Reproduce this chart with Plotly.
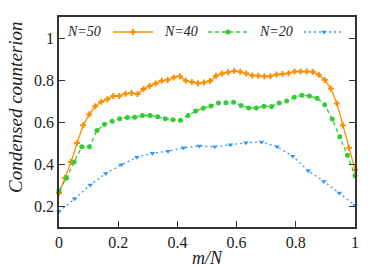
import numpy as np
import plotly.graph_objects as go

# Data (x = m/N, evenly spaced over [0, 1])
n50_vals = [0.262, 0.335, 0.41, 0.50, 0.584, 0.636, 0.675, 0.697, 0.708, 0.724,
            0.724, 0.735, 0.738, 0.733, 0.757, 0.772, 0.783, 0.796, 0.800, 0.812,
            0.818, 0.796, 0.791, 0.785, 0.788, 0.795, 0.82, 0.831, 0.837, 0.843,
            0.839, 0.831, 0.822, 0.82, 0.817, 0.818, 0.826, 0.828, 0.832, 0.841,
            0.84, 0.84, 0.839, 0.825, 0.80, 0.759, 0.688, 0.584, 0.477, 0.373]
n40_vals = [0.273, 0.333, 0.41, 0.482, 0.482, 0.56, 0.589, 0.604, 0.616, 0.622,
            0.623, 0.631, 0.631, 0.625, 0.616, 0.611, 0.608, 0.631, 0.652, 0.666,
            0.676, 0.69, 0.692, 0.694, 0.679, 0.667, 0.667, 0.675, 0.674, 0.691,
            0.70, 0.718, 0.727, 0.724, 0.713, 0.682, 0.614, 0.53, 0.442, 0.344]
n20_vals = [0.174, 0.234, 0.30, 0.355, 0.396, 0.432, 0.451, 0.461, 0.477, 0.486,
            0.482, 0.492, 0.501, 0.505, 0.482, 0.437, 0.368, 0.317, 0.262, 0.204]

series_labels = ["N=50", "N=40", "N=20"]
x_ticks = [0, 0.2, 0.4, 0.6, 0.8, 1]
x_tick_labels = ["0", "0.2", "0.4", "0.6", "0.8", "1"]
y_ticks = [0.2, 0.4, 0.6, 0.8, 1]
y_tick_labels = ["0.2", "0.4", "0.6", "0.8", "1"]

FONT = "Liberation Serif, Times New Roman, serif"
colors = ["#ff8c00", "#33cc33", "#3399ff"]
dashes = ["solid", "4px,3px", "2px,3px"]
symbols = ["cross", "circle", "triangle-down"]
legend_ids = ["legend", "legend2", "legend3"]

W, H = 382, 268
PL, PR, PT, PB = 59, 355, 17, 227   # plot box in pixels


def px_to_paper_x(px):
    return (px - PL) / (PR - PL)


def px_to_paper_y(py):
    return (PB - py) / (PB - PT)


fig = go.Figure()
for vals, col, dash, sym, lid in zip([n50_vals, n40_vals, n20_vals], colors, dashes, symbols, legend_ids):
    x = np.linspace(0, 1, len(vals))
    fig.add_trace(go.Scatter(
        x=x, y=vals, mode="lines+markers",
        line=dict(color=col, width=1.3, dash=dash),
        marker=dict(symbol=sym, size=5, color=col, line=dict(width=0)),
        name=" ", showlegend=True, cliponaxis=False, legend=lid,
    ))

# legend texts placed before the samples (gnuplot style)
legend_text_x = [84, 181, 276]
for lab, px in zip(series_labels, legend_text_x):
    fig.add_annotation(text=lab, xref="paper", yref="paper",
                       x=px_to_paper_x(px), y=px_to_paper_y(32),
                       showarrow=False, xanchor="center", yanchor="middle",
                       font=dict(family=FONT, size=14, color="#222", style="italic"))

# y axis title (placed as in the reference, slightly above the axis centre)
fig.add_annotation(text="Condensed counterion", xref="paper", yref="paper",
                   x=px_to_paper_x(15), y=px_to_paper_y(107), textangle=-90,
                   showarrow=False, xanchor="center", yanchor="middle",
                   font=dict(family=FONT, size=19, color="#222", style="italic"))

legend_sample_x = [108, 203, 299]
leg_common = dict(orientation="h", xanchor="left", yanchor="middle",
                  bgcolor="rgba(0,0,0,0)", font=dict(size=6), itemwidth=40)
legends = {}
for lid, px in zip(legend_ids, legend_sample_x):
    legends[lid] = dict(x=px_to_paper_x(px), y=px_to_paper_y(32), **leg_common)

fig.update_layout(
    width=W, height=H,
    margin=dict(l=PL, r=W - PR, t=PT, b=H - PB, autoexpand=False),
    paper_bgcolor="white", plot_bgcolor="white",
    font=dict(family=FONT, size=16, color="#222"),
    showlegend=True,
    **legends,
    xaxis=dict(range=[0, 1], tickvals=x_ticks, ticktext=x_tick_labels,
               ticks="inside", ticklen=6, tickwidth=1, tickcolor="#333",
               showline=True, linecolor="#333", linewidth=1.5, mirror=True,
               showgrid=False, zeroline=False, automargin=False,
               tickfont=dict(family=FONT, size=16, color="#222"),
               title=dict(text="m/N", standoff=4,
                          font=dict(family=FONT, size=18, color="#222", style="italic"))),
    yaxis=dict(range=[0.1, 1.1], tickvals=y_ticks, ticktext=y_tick_labels,
               ticks="inside", ticklen=6, tickwidth=1, tickcolor="#333",
               showline=True, linecolor="#333", linewidth=1.5, mirror="ticks",
               showgrid=False, zeroline=False, automargin=False,
               tickfont=dict(family=FONT, size=16, color="#222")),
)

# remove the default page margin so the figure fills the window exactly
fig.write_html("out.html", config={"displayModeBar": False},
               post_script="document.body.style.margin='0';")
